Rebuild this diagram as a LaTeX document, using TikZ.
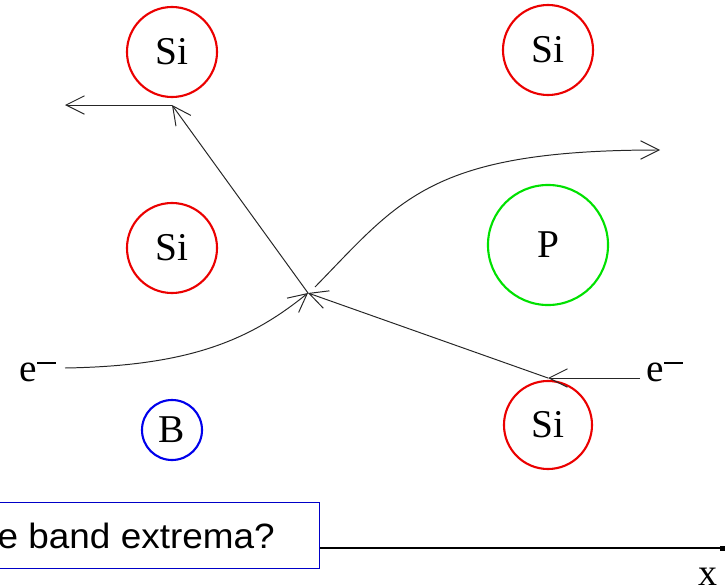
\documentclass[tikz,border=0pt]{standalone}
\usepackage{fontspec}
\setmainfont{Liberation Serif}
\newfontfamily\boxfont{Liberation Sans}
\usetikzlibrary{arrows.meta}
\definecolor{atomred}{RGB}{235,0,0}
\definecolor{atomgreen}{RGB}{0,225,0}
\definecolor{atomblue}{RGB}{0,0,235}
\definecolor{boxblue}{RGB}{0,0,200}
\tikzset{
  atom/.style={circle, draw, line width=1.5pt, inner sep=0pt, font=\fontsize{28}{30}\selectfont},
  path/.style={draw=black!85, line width=0.7pt, -{Straight Barb[length=4.6mm,width=4.6mm]}},
  elabel/.style={font=\fontsize{28}{30}\selectfont, inner sep=0pt}
}
\newcommand{\electron}{e\raisebox{0.46em}{\rule{0.48em}{0.045em}}}

\begin{document}
\begin{tikzpicture}[x=0.025cm, y=-0.025cm]
  \useasboundingbox (0,0) rectangle (725,585);
  \clip (0,0) rectangle (725,585);

  \node[atom, draw=atomred, minimum size=2.25cm] (siTL) at (172,52) {Si};
  \node[atom, draw=atomred, minimum size=2.25cm] (siTR) at (548,50) {Si};
  \node[atom, draw=atomred, minimum size=2.25cm] (siML) at (172,248) {Si};
  \node[atom, draw=atomgreen, minimum size=3cm] (phos) at (548,245) {P};
  \node[atom, draw=atomblue, minimum size=1.5cm] (boron) at (172,430) {B};
  \node[atom, draw=atomred, minimum size=2.2cm] (siBR) at (548,425) {Si};

  \node[elabel] (eL) at (38,372) {\electron};
  \node[elabel] (eR) at (665,372) {\electron};

  \coordinate (hub) at (308,293);
  \coordinate (kink) at (172,105);
  \coordinate (outL) at (65,105);
  \coordinate (outR) at (660,150);
  \coordinate (inL) at (65,368);
  \coordinate (inR) at (640,378);
  \coordinate (hit) at (548,378);
  \coordinate (start) at (315,287);

  \draw[path] (inL) .. controls (190,366) and (250,340) .. (hub);
  \draw[path] (hub) -- (kink);
  \draw[path] (kink) -- (outL);
  \draw[path] (start) .. controls (400,200) and (430,150) .. (outR);
  \draw[path] (inR) -- (hit);
  \draw[path] (hit) -- (hub);

  \node[draw=boxblue, line width=1pt, minimum width=8.5cm, minimum height=1.65cm,
        anchor=north east] (question) at (320,502) {};
  \node[anchor=base east, inner sep=0pt, font=\boxfont\fontsize{25}{28}\selectfont, xscale=1.05]
    (qtext) at (275,548) {e band extrema?};

  \coordinate (axisend) at (722,548);
  \draw[line width=0.8pt] (question.east |- axisend) -- (axisend);
  \fill (axisend) ++(-2,-2.5) rectangle ++(5,5);
  \node[font=\fontsize{27}{30}\selectfont, inner sep=0pt] (xlabel) at (708,577) {x};
\end{tikzpicture}
\end{document}
